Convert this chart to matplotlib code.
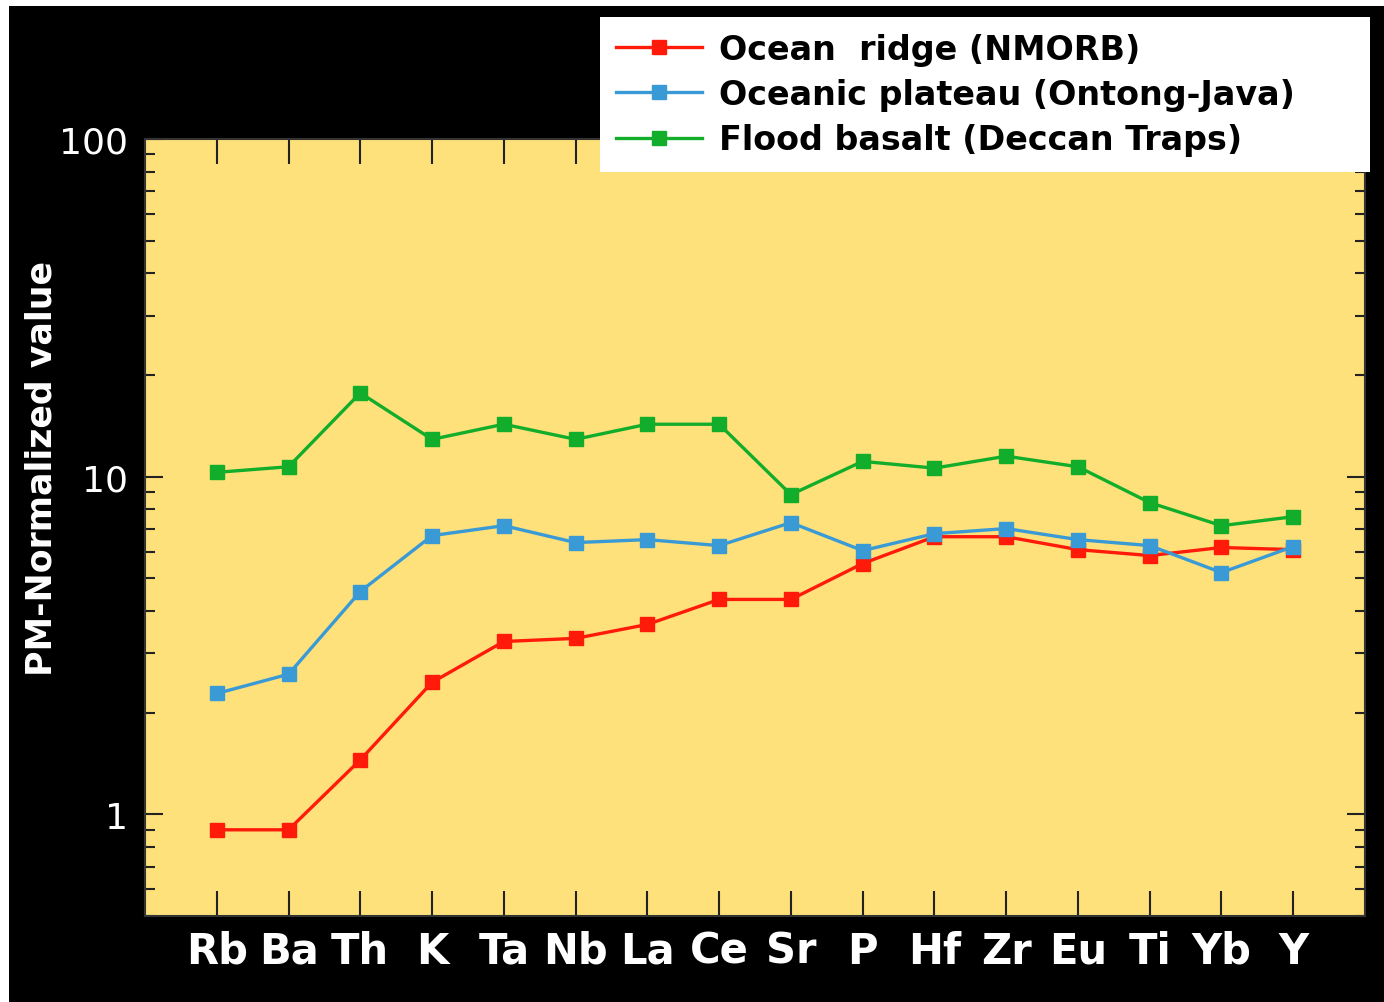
import numpy as np
import matplotlib
matplotlib.use("Agg")
import matplotlib.pyplot as plt
from matplotlib.patches import Rectangle
from matplotlib.ticker import LogLocator, NullFormatter, FixedLocator, FixedFormatter

elements = ["Rb", "Ba", "Th", "K", "Ta", "Nb", "La", "Ce", "Sr", "P", "Hf", "Zr", "Eu", "Ti", "Yb", "Y"]

nmorb = [0.90, 0.90, 1.45, 2.46, 3.25, 3.32, 3.65, 4.33, 4.33, 5.53, 6.64, 6.64, 6.08, 5.84, 6.17, 6.08]
ontong_java = [2.28, 2.60, 4.57, 6.69, 7.16, 6.38, 6.51, 6.25, 7.31, 6.04, 6.78, 7.02, 6.51, 6.25, 5.20, 6.21]
deccan = [10.3, 10.7, 17.7, 12.9, 14.3, 12.9, 14.3, 14.3, 8.85, 11.1, 10.6, 11.5, 10.7, 8.38, 7.16, 7.61]

labels = ["Ocean  ridge (NMORB)", "Oceanic plateau (Ontong-Java)", "Flood basalt (Deccan Traps)"]
colors = ["#ff1a0a", "#3a9ad6", "#12ad2a"]

W, H = 1384, 1003
fig = plt.figure(figsize=(W / 100, H / 100), dpi=100, facecolor="white")
# black backdrop, thin white margin on top and left
fig.patches.append(Rectangle((9 / W, 0), 1, 1 - 7 / H, transform=fig.transFigure,
                             facecolor="black", edgecolor="none", zorder=-10))

ax = fig.add_axes([145 / W, (H - 917) / H, 1220 / W, 777 / H])
ax.set_facecolor("#fee17a")

x = np.arange(len(elements))
lines = []
for vals, c, lab in zip([nmorb, ontong_java, deccan], colors, labels):
    l, = ax.plot(x, vals, color=c, lw=2.4, marker="s", ms=9.5, mec=c, mfc=c, label=lab)
    lines.append(l)

ax.set_yscale("log")
ax.set_ylim(0.5, 100)
ax.set_xlim(-1, 16)

ax.xaxis.set_major_locator(FixedLocator(x))
ax.set_xticklabels(elements)
ax.yaxis.set_major_locator(FixedLocator([1, 10, 100]))
ax.yaxis.set_major_formatter(FixedFormatter(["1", "10", "100"]))
ax.yaxis.set_minor_locator(LogLocator(base=10, subs=np.arange(2, 10)))
ax.yaxis.set_minor_formatter(NullFormatter())

ax.tick_params(axis="x", which="major", direction="in", length=18, width=1.5, color="#222",
               top=True, bottom=True, labelsize=30, labelcolor="white", pad=10)
ax.tick_params(axis="y", which="major", direction="in", length=13, width=1.5, color="#222",
               left=True, right=True, labelsize=26, labelcolor="white", pad=12)
ax.tick_params(axis="y", which="minor", direction="in", length=7, width=1.5, color="#222",
               left=True, right=True)
for t in ax.get_xticklabels():
    t.set_fontweight("bold")

for s in ax.spines.values():
    s.set_color("#333")
    s.set_linewidth(1.5)

ax.set_ylabel("PM-Normalized value", color="white", fontsize=25, fontweight="bold")
ax.yaxis.set_label_coords(-0.071, 0.577)

leg = fig.legend(handles=lines, loc="upper left",
                 bbox_to_anchor=(600 / W, 1 - 175 / H, 770 / W, 157 / H), mode="expand",
                 frameon=True, fancybox=False, framealpha=1, facecolor="white", edgecolor="white",
                 prop={"size": 24, "weight": "bold"}, handlelength=2.6, handletextpad=0.5,
                 labelspacing=0.37, borderpad=0.47, borderaxespad=0)
leg.get_frame().set_linewidth(0)

fig.savefig("out.png", dpi=100, facecolor=fig.get_facecolor())
